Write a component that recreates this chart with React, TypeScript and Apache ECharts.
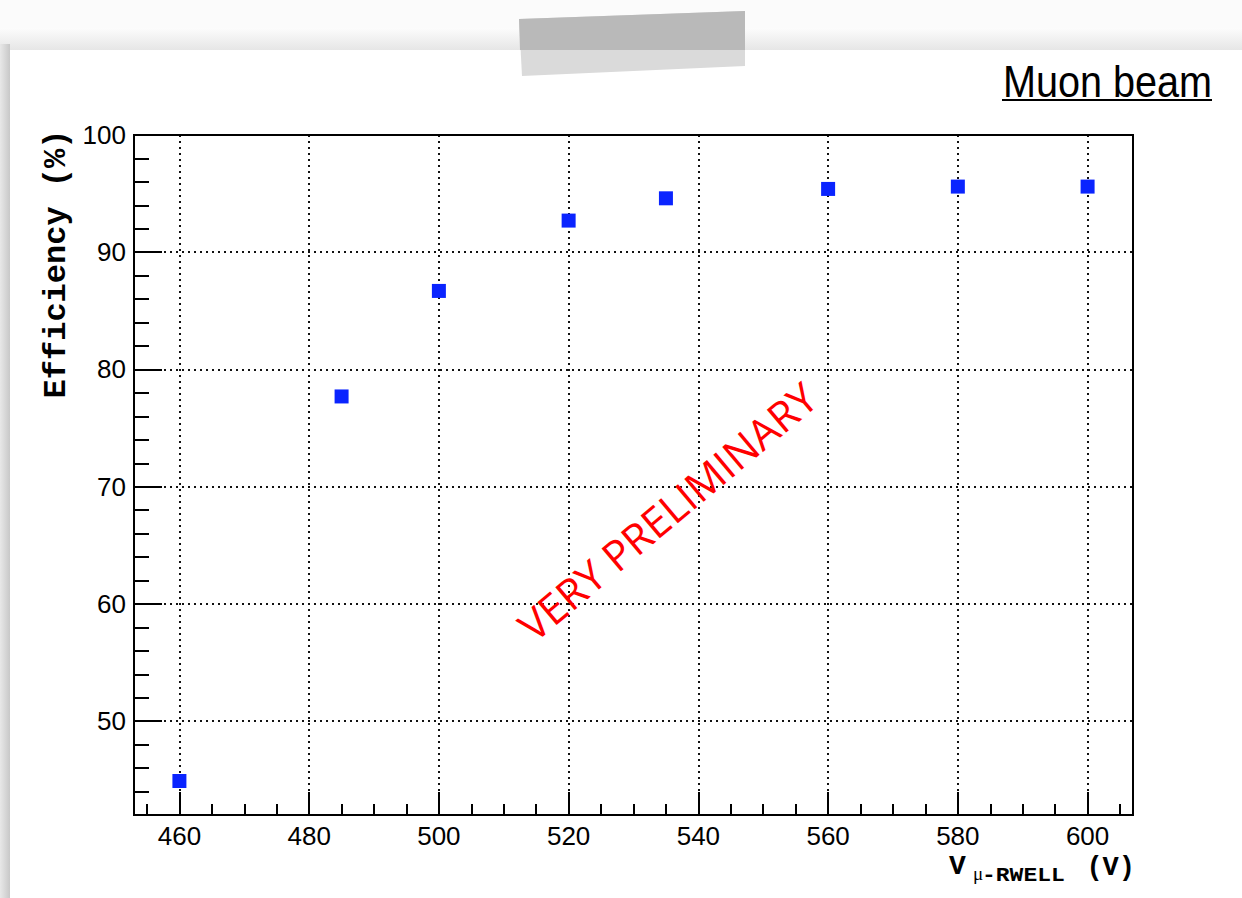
import React, { useEffect, useRef } from "react";
import * as echarts from "echarts";

// ---- data ----
const voltages = [460, 485, 500, 520, 535, 560, 580, 600];
const efficiency = [44.9, 77.7, 86.7, 92.7, 94.6, 95.4, 95.6, 95.6];

const xMajorTicks = [460, 480, 500, 520, 540, 560, 580, 600];
const yMajorTicks = [50, 60, 70, 80, 90, 100];
const xMin = 453;
const xMax = 607;
const yMin = 42;
const yMax = 100;
const xMinorStep = 5;
const yMinorStep = 2;

const titleText = "Muon beam";
const yTitle = "Efficiency (%)";
const watermark = "VERY PRELIMINARY";

function stepTicks(min: number, max: number, step: number): number[] {
  const out: number[] = [];
  for (let v = Math.ceil(min / step) * step; v <= max; v += step) out.push(v);
  return out;
}

export default function App() {
  const ref = useRef<HTMLDivElement>(null);

  useEffect(() => {
    if (!ref.current) return;
    const chart = echarts.init(ref.current, null, { renderer: "svg" });
    const xMinor = stepTicks(xMin, xMax, xMinorStep);
    const yMinor = stepTicks(yMin, yMax, yMinorStep);
    const mono = '"Liberation Mono", "Courier New", monospace';
    const sans = '"Liberation Sans", Arial, Helvetica, sans-serif';

    chart.setOption({
      animation: false,
      backgroundColor: "#ffffff",
      grid: {
        left: 134,
        right: 109,
        top: 135,
        bottom: 83,
        show: true,
        borderColor: "#000",
        borderWidth: 2,
        backgroundColor: "transparent",
        z: 2,
      },
      xAxis: [
        {
          type: "value",
          position: "bottom",
          min: xMin,
          max: xMax,
          axisLine: { show: true, onZero: false, lineStyle: { color: "#000", width: 2 } },
          axisTick: {
            show: true,
            inside: true,
            length: 23,
            customValues: xMajorTicks,
            lineStyle: { color: "#000", width: 2 },
          },
          axisLabel: {
            show: true,
            customValues: xMajorTicks,
            color: "#000",
            fontSize: 26,
            fontFamily: sans,
            margin: 8,
          },
          splitLine: {
            show: true,
            lineStyle: { color: "#111", width: 2, type: [2, 4] },
          },
        },
        {
          type: "value",
          position: "bottom",
          min: xMin,
          max: xMax,
          axisLine: { show: false, onZero: false },
          axisTick: {
            show: true,
            inside: true,
            length: 11,
            customValues: xMinor,
            lineStyle: { color: "#000", width: 2 },
          },
          axisLabel: { show: false },
          splitLine: { show: false },
        },
      ],
      yAxis: [
        {
          type: "value",
          position: "left",
          min: yMin,
          max: yMax,
          axisLine: { show: true, onZero: false, lineStyle: { color: "#000", width: 2 } },
          axisTick: {
            show: true,
            inside: true,
            length: 28,
            customValues: yMajorTicks,
            lineStyle: { color: "#000", width: 2 },
          },
          axisLabel: {
            show: true,
            customValues: yMajorTicks,
            color: "#000",
            fontSize: 26,
            fontFamily: sans,
            margin: 8,
          },
          splitLine: {
            show: true,
            lineStyle: { color: "#111", width: 2, type: [2, 4] },
          },
        },
        {
          type: "value",
          position: "left",
          min: yMin,
          max: yMax,
          axisLine: { show: false, onZero: false },
          axisTick: {
            show: true,
            inside: true,
            length: 15,
            customValues: yMinor,
            lineStyle: { color: "#000", width: 2 },
          },
          axisLabel: { show: false },
          splitLine: { show: false },
        },
      ],
      series: [
        {
          type: "scatter",
          xAxisIndex: 0,
          yAxisIndex: 0,
          symbol: "rect",
          symbolSize: 14,
          itemStyle: { color: "#0a24ff", opacity: 1 },
          data: voltages.map((v, i) => [v, efficiency[i]]),
          z: 5,
        },
      ],
      graphic: [
        // page background / paper card
        { type: "rect", z: -100, silent: true, shape: { x: 0, y: 0, width: 1242, height: 898 }, style: { fill: "#fbfbfb" } },
        {
          type: "rect", z: -99, silent: true,
          shape: { x: 0, y: 28, width: 1242, height: 22 },
          style: {
            fill: new echarts.graphic.LinearGradient(0, 0, 0, 1, [
              { offset: 0, color: "#fcfcfc" },
              { offset: 1, color: "#e6e6e6" },
            ]),
          },
        },
        {
          type: "rect", z: -99, silent: true,
          shape: { x: 0, y: 44, width: 10, height: 854 },
          style: {
            fill: new echarts.graphic.LinearGradient(0, 0, 1, 0, [
              { offset: 0, color: "#e8e8e8" },
              { offset: 1, color: "#c8c8c8" },
            ]),
          },
        },
        { type: "rect", z: -98, silent: true, shape: { x: 10, y: 50, width: 1232, height: 848 }, style: { fill: "#ffffff" } },
        // tape
        {
          type: "polygon", z: -97, silent: true,
          shape: { points: [[519, 19], [745, 11], [745, 66], [522, 76]] },
          style: { fill: "#dadada" },
        },
        {
          type: "polygon", z: -96, silent: true,
          shape: { points: [[519, 19], [745, 11], [745, 50], [520, 50]] },
          style: { fill: "#b9b9b9" },
        },
        // title
        {
          type: "text", z: 10, x: 1212, y: 82, scaleX: 0.9,
          style: { text: titleText, fill: "#000", font: '44px "Liberation Sans", Arial, sans-serif', align: "right", verticalAlign: "middle" },
        },
        {
          type: "line", z: 10,
          shape: { x1: 1002, y1: 100, x2: 1212, y2: 100 },
          style: { stroke: "#000", lineWidth: 2 },
        },
        // y axis title
        {
          type: "text", z: 10, x: 56, y: 264, rotation: Math.PI / 2,
          style: { text: yTitle, fill: "#000", font: `bold 32px ${mono}`, align: "center", verticalAlign: "middle" },
        },
        // x axis title
        {
          type: "text", z: 10, x: 949, y: 866,
          style: { text: "V", fill: "#000", font: `bold 28px ${mono}`, align: "left", verticalAlign: "middle" },
        },
        {
          type: "text", z: 10, x: 973, y: 873,
          style: { text: "μ", fill: "#000", font: '19px "Liberation Serif", serif', align: "left", verticalAlign: "middle" },
        },
        {
          type: "text", z: 10, x: 982, y: 875, scaleX: 1.15,
          style: { text: "-RWELL", fill: "#000", font: `bold 20px ${mono}`, align: "left", verticalAlign: "middle" },
        },
        {
          type: "text", z: 10, x: 1135, y: 868,
          style: { text: "(V)", fill: "#000", font: `bold 27px ${mono}`, align: "right", verticalAlign: "middle" },
        },
        // watermark
        {
          type: "text", z: 20, x: 667, y: 511, rotation: (40 * Math.PI) / 180,
          style: { text: watermark, fill: "#ff0000", font: '42px "Open Sans", "Noto Sans", sans-serif', align: "center", verticalAlign: "middle" },
        },
      ],
    });

    return () => chart.dispose();
  }, []);

  return (
    <div
      ref={ref}
      style={{ position: "fixed", left: 0, top: 0, width: 1242, height: 898 }}
    />
  );
}
